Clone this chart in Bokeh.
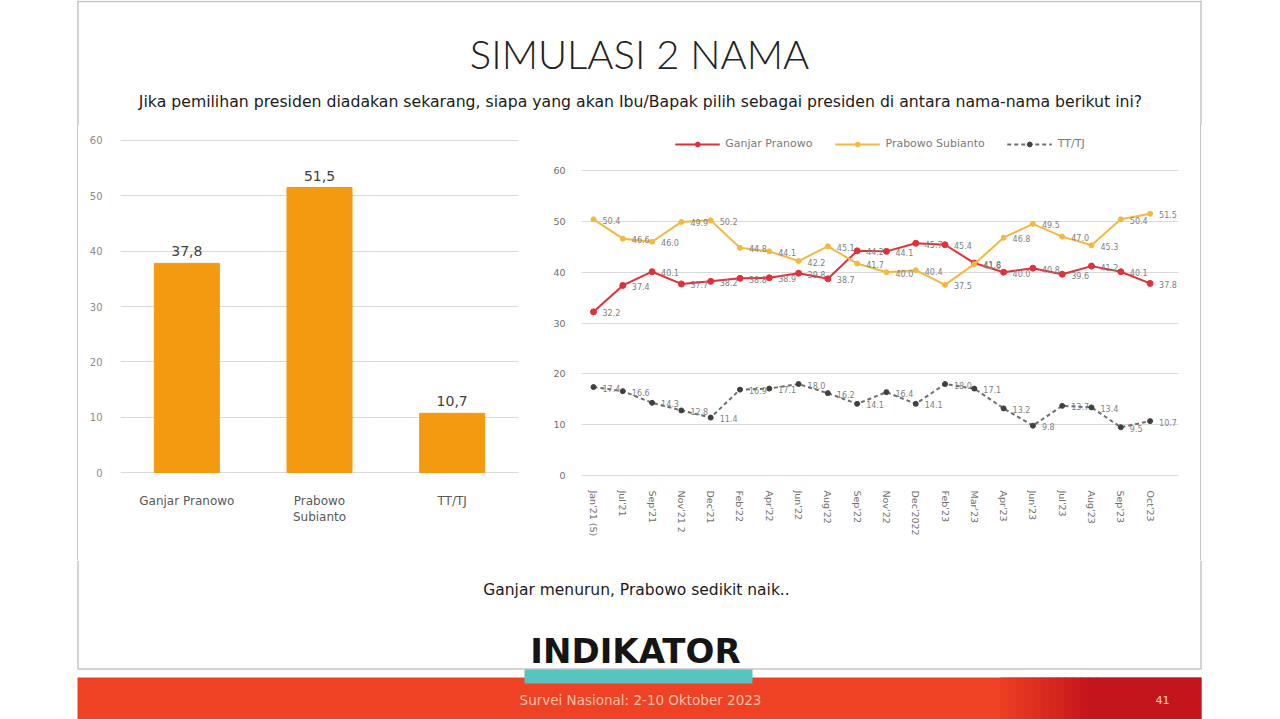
from bokeh.plotting import figure
from bokeh.layouts import column, row
from bokeh.models import Range1d, FactorRange, FixedTicker, Legend, LegendItem, Div
from bokeh.core.properties import value
from bokeh.embed import file_html
from bokeh.resources import INLINE

# ---------------- data ----------------
TITLE = "SIMULASI 2 NAMA"
SUBTITLE = ("Jika pemilihan presiden diadakan  sekarang,  siapa yang  akan  Ibu/Bapak pilih "
            "sebagai presiden di antara nama-nama berikut ini?")
NOTE = "Ganjar menurun, Prabowo sedikit naik.."
LOGO = "INDIKATOR"
FOOTER = "Survei Nasional: 2-10 Oktober 2023"
PAGE = "41"

bar_categories = ["Ganjar Pranowo", "Prabowo\nSubianto", "TT/TJ"]
bar_values = [37.8, 51.5, 10.7]
bar_labels = ["37,8", "51,5", "10,7"]
bar_ticks = [0, 10, 20, 30, 40, 50, 60]

periods = ["Jan'21 (S)", "Jul'21", "Sep'21", "Nov'21 2", "Dec'21", "Feb'22", "Apr'22",
           "Jun'22", "Aug'22", "Sep'22", "Nov'22", "Dec'2022", "Feb'23", "Mar'23",
           "Apr'23", "Jun'23", "Jul'23", "Aug'23", "Sep'23", "Oct'23"]
ganjar = [32.2, 37.4, 40.1, 37.7, 38.2, 38.8, 38.9, 39.8, 38.7, 44.2,
          44.1, 45.7, 45.4, 41.8, 40.0, 40.8, 39.6, 41.2, 40.1, 37.8]
prabowo = [50.4, 46.6, 46.0, 49.9, 50.2, 44.8, 44.1, 42.2, 45.1, 41.7,
           40.0, 40.4, 37.5, 41.6, 46.8, 49.5, 47.0, 45.3, 50.4, 51.5]
tttj = [17.4, 16.6, 14.3, 12.8, 11.4, 16.9, 17.1, 18.0, 16.2, 14.1,
        16.4, 14.1, 18.0, 17.1, 13.2, 9.8, 13.7, 13.4, 9.5, 10.7]
series_names = ["Ganjar Pranowo", "Prabowo Subianto", "TT/TJ"]
line_ticks = [0, 10, 20, 30, 40, 50, 60]

# ---------------- styles ----------------
FONT = "DejaVu Sans"
GRID = "#d9d9d9"
BORDER = "#c4c4c4"
ORANGE = "#f39a10"
RED = "#e0303a"
GOLD = "#f2b840"
GRAY = "#6f6f6f"
TXT = "#595959"


def canvas(w, h, x0, y0):
    p = figure(width=w, height=h, x_range=Range1d(x0, x0 + w), y_range=Range1d(y0 + h, y0),
               output_backend="svg", toolbar_location=None,
               x_axis_location=None, y_axis_location=None,
               min_border=0, min_border_left=0, min_border_right=0,
               min_border_top=0, min_border_bottom=0)
    p.grid.visible = False
    p.outline_line_color = None
    p.background_fill_color = "white"
    p.border_fill_color = "white"
    return p


# ---------------- header ----------------
head = canvas(1280, 125, 0, 0)
head.segment(x0=[77.5, 1200.5, 77], y0=[0, 0, 1], x1=[77.5, 1200.5, 1201], y1=[125, 125, 1],
             line_color=BORDER, line_width=1.5)
head.text(x=[639], y=[53], text=[TITLE], text_font=value("Lato Light"), text_font_size="40px",
          text_align="center", text_baseline="middle", text_color="#222222")
head.text(x=[650], y=[101], text=[SUBTITLE], text_font=value(FONT), text_font_size="15.7px",
          text_align="center", text_baseline="middle", text_color="#1a1a1a")

# ---------------- side borders ----------------
leftpad = Div(text=('<div style="width:78px;height:435px;box-sizing:border-box;'
                    'border-right:1.5px solid #c4c4c4;background:white"></div>'),
              width=78, height=435, margin=0)
rightpad = Div(text=('<div style="width:80px;height:435px;box-sizing:border-box;'
                     'border-left:1.5px solid #c4c4c4;background:white"></div>'),
               width=80, height=435, margin=0)

# ---------------- bar chart ----------------
pb = figure(width=472, height=435, x_range=FactorRange(*bar_categories), y_range=Range1d(-1.08, 60.9),
            output_backend="svg", toolbar_location=None,
            min_border_left=42, min_border_right=32, min_border_top=10, min_border_bottom=82)
pb.outline_line_color = None
pb.vbar(x=bar_categories, top=bar_values, bottom=0, width=0.49, fill_color=ORANGE, line_color=ORANGE)
pb.text(x=bar_categories, y=bar_values, text=bar_labels, y_offset=-7, text_align="center",
        text_baseline="bottom", text_font=value(FONT), text_font_size="14px", text_color="#404040")
pb.xgrid.visible = False
pb.ygrid.ticker = FixedTicker(ticks=bar_ticks)
pb.ygrid.grid_line_color = GRID
pb.yaxis.ticker = FixedTicker(ticks=bar_ticks)
for ax in (pb.xaxis[0], pb.yaxis[0]):
    ax.axis_line_color = None
    ax.major_tick_line_color = None
    ax.minor_tick_line_color = None
    ax.major_label_text_font = FONT
    ax.major_label_text_color = TXT
pb.yaxis.major_label_text_font_size = "10px"
pb.yaxis.major_label_text_color = "#8a8a8a"
pb.yaxis.major_label_standoff = 12
pb.xaxis.major_label_text_font_size = "12px"
pb.xaxis.major_label_standoff = 9

# ---------------- line chart ----------------
xs = list(range(len(periods)))
pl = figure(width=650, height=435, x_range=Range1d(-0.41, 19.97), y_range=Range1d(-0.59, 66.9),
            output_backend="svg", toolbar_location=None,
            min_border_left=30, min_border_right=22, min_border_top=10, min_border_bottom=82)
pl.outline_line_color = None
pl.xgrid.visible = False
pl.ygrid.ticker = FixedTicker(ticks=line_ticks)
pl.ygrid.grid_line_color = GRID
pl.yaxis.ticker = FixedTicker(ticks=line_ticks)
pl.xaxis.ticker = FixedTicker(ticks=xs)
pl.xaxis.major_label_overrides = {i: periods[i] for i in xs}
pl.xaxis.major_label_orientation = "vertical"
for ax in (pl.xaxis[0], pl.yaxis[0]):
    ax.axis_line_color = None
    ax.major_tick_line_color = None
    ax.minor_tick_line_color = None
    ax.major_label_text_font = FONT
    ax.major_label_text_color = "#6e6e6e"
    ax.major_label_text_font_size = "9.5px"
pl.yaxis.major_label_standoff = 10
pl.xaxis.major_label_standoff = 6

items = []
for name, vals, col, dash, mcol, msize in [
        (series_names[0], ganjar, RED, "solid", RED, 6),
        (series_names[1], prabowo, GOLD, "solid", GOLD, 5),
        (series_names[2], tttj, GRAY, "4 3", "#404040", 5)]:
    rl = pl.line(xs, vals, line_color=col, line_width=2, line_dash=dash)
    rp = pl.scatter(xs, vals, marker="circle", size=msize, fill_color=mcol, line_color=mcol)
    pl.text(x=xs, y=vals, text=["%.1f" % v for v in vals], x_offset=9, y_offset=1,
            text_align="left", text_baseline="middle", text_font=value(FONT),
            text_font_size="8px", text_color="#808080")
    items.append(LegendItem(label=name, renderers=[rl, rp]))

legend = Legend(items=items, location="top_center", orientation="horizontal",
                glyph_width=45, glyph_height=12, label_text_font=FONT, label_text_font_size="11px",
                label_text_color="#7a7a7a", spacing=22, padding=2, margin=2, label_standoff=6,
                border_line_color=None, background_fill_alpha=0)
pl.add_layout(legend)

# ---------------- footer ----------------
foot = canvas(1280, 159, 0, 560)
foot.segment(x0=[77.5, 1200.5, 77], y0=[560, 560, 668.5], x1=[77.5, 1200.5, 1201], y1=[668.5, 668.5, 668.5],
             line_color=BORDER, line_width=1.5)
foot.text(x=[636], y=[589], text=[NOTE], text_font=value(FONT), text_font_size="15.5px",
          text_align="center", text_baseline="middle", text_color="#1a1a1a")
foot.quad(left=[77], right=[1201], top=[677], bottom=[719], fill_color="#ef4123", line_color=None)
steps = 12
for i in range(steps):
    t = (i + 1) / steps
    r = int(0xef + (0xc4 - 0xef) * t)
    g = int(0x41 + (0x14 - 0x41) * t)
    b = int(0x23 + (0x1c - 0x23) * t)
    foot.quad(left=[1000 + i * 8], right=[1000 + (i + 1) * 8 + 1], top=[677], bottom=[719],
              fill_color="#%02x%02x%02x" % (r, g, b), line_color=None)
foot.quad(left=[1096], right=[1201], top=[677], bottom=[719], fill_color="#c4141c", line_color=None)
foot.quad(left=[524], right=[752], top=[669], bottom=[683], fill_color="#58c4c0", line_color=None)
foot.text(x=[635], y=[650], text=[LOGO], text_font=value(FONT), text_font_size="34px",
          text_font_style="bold", text_align="center", text_baseline="middle", text_color="#151515")
foot.text(x=[640], y=[699], text=[FOOTER], text_font=value(FONT), text_font_size="13.5px",
          text_align="center", text_baseline="middle", text_color="#f9c3a8")
foot.text(x=[1162], y=[699], text=[PAGE], text_font=value(FONT), text_font_size="11px",
          text_align="center", text_baseline="middle", text_color="#f7d0d0")

layout = column(head, row(leftpad, pb, pl, rightpad), foot)
open("out.html", "w").write(file_html(layout, INLINE))
